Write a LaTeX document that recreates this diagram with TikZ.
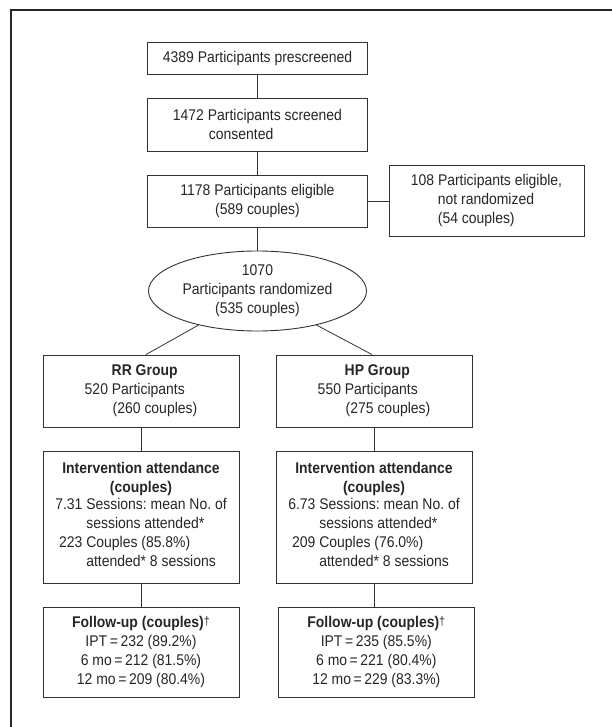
\documentclass[tikz,border=0pt]{standalone}
\usepackage{fontspec}
\setmainfont{Liberation Sans}[FakeStretch=0.9]
\usepackage{tikz}
\usetikzlibrary{shapes,positioning}
\frenchspacing
\newcommand{\fudag}{\raisebox{2.5pt}{\fontsize{12}{12}\selectfont †}}

\begin{document}
\begin{tikzpicture}[x=1pt,y=-1pt,
		txt/.style={font=\fontsize{15.5}{19}\selectfont,text=black!85,inner sep=0pt},
		stage/.style={txt,draw=black!80,line width=.9pt,align=center,minimum width=220pt},
		arm/.style={stage,minimum width=196pt},
		oval/.style={txt,ellipse,draw=black!80,line width=.9pt,align=center,minimum width=218pt,minimum height=80pt},
		link/.style={draw=black!80,line width=.8pt},
		frame/.style={draw=black!85,line width=1.3pt}]
			\useasboundingbox (0,0) rectangle (612,727);
			\draw[frame] (11,727) -- (11,10) -- (612,10);
			\node[stage,minimum height=32pt] (pre) at (257.5,58) {4389 Participants prescreened};
			\node[stage,minimum height=53pt,align=left] (scr) at (257.5,124.5) {1472 Participants screened\\\hspace*{36pt}consented};
			\node[stage,minimum height=52pt] (elig) at (257.5,201) {1178 Participants eligible\\(589 couples)};
			\node[stage,minimum width=195pt,minimum height=71pt,align=left] (notrand) at (486.5,200.5) {108 Participants eligible,\\\hspace*{27pt}not randomized\\\hspace*{27pt}(54 couples)};
			\node[oval] (rand) at (257.5,291) {1070\\Participants randomized\\(535 couples)};
			\node[arm,minimum height=72pt,align=left] (rr) at (141,391) {\hspace*{27pt}\textbf{RR Group}\\520 Participants\\\hspace*{28pt}(260 couples)};
			\node[arm,minimum height=72pt,align=left] (hp) at (374,391) {\hspace*{27pt}\textbf{HP Group}\\550 Participants\\\hspace*{28pt}(275 couples)};
			\node[arm,minimum height=132pt] (rrint) at (141,517) {\textbf{Intervention attendance}\\\textbf{(couples)}\\
				\begin{tabular}{@{}r@{ }l@{}}7.31 & Sessions: mean No. of\\ & sessions attended*\\223 & Couples (85.8\%)\\ & attended* 8 sessions\end{tabular}};
			\node[arm,minimum height=132pt] (hpint) at (374,517) {\textbf{Intervention attendance}\\\textbf{(couples)}\\
				\begin{tabular}{@{}r@{ }l@{}}6.73 & Sessions: mean No. of\\ & sessions attended*\\209 & Couples (76.0\%)\\ & attended* 8 sessions\end{tabular}};
			\node[arm,minimum height=90pt] (rrfol) at (141,652) {\textbf{Follow-up (couples)}\fudag\\IPT\,=\,232 (89.2\%)\\6 mo\,=\,212 (81.5\%)\\12 mo\,=\,209 (80.4\%)};
			\node[arm,minimum width=195.5pt,minimum height=90pt] (hpfol) at (376.3,652) {\textbf{Follow-up (couples)}\fudag\\IPT\,=\,235 (85.5\%)\\6 mo\,=\,221 (80.4\%)\\12 mo\,=\,229 (83.3\%)};
			\draw[link] (pre) -- (scr);
			\draw[link] (scr) -- (elig);
			\draw[link] (elig) -- (rand);
			\draw[link] (elig.east) -- (elig.east -| notrand.west);
			\draw[link] (rand.210) -- ([xshift=5pt]rr.north);
			\draw[link] (rand.330) -- ([xshift=-2pt]hp.north);
			\draw[link] (rr) -- (rrint);
			\draw[link] (hp) -- (hpint);
			\draw[link] (rrint) -- (rrfol);
			\draw[link] (hpint.south) -- (hpint.south |- hpfol.north);
		\end{tikzpicture}
\end{document}
